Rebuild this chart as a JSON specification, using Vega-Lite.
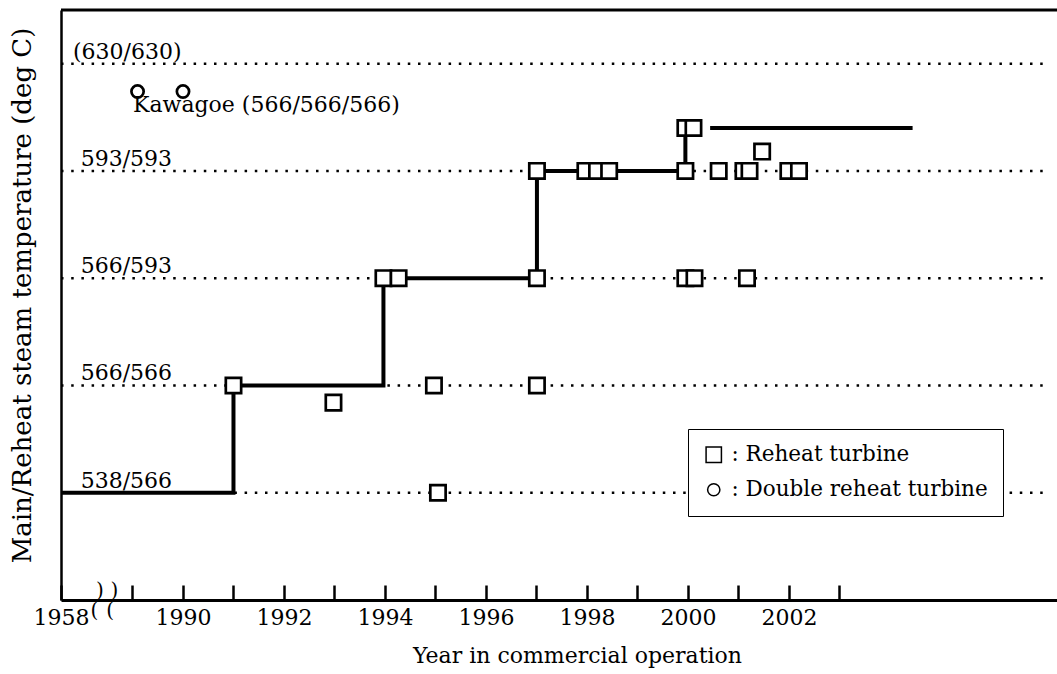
{
  "$schema": "https://vega.github.io/schema/vega-lite/v6.json",
  "width": 996,
  "height": 590,
  "autosize": {"type": "none"},
  "padding": {"left": 61, "top": 10, "right": 0, "bottom": 74},
  "background": "white",
  "config": {"view": {"stroke": null}, "font": "DejaVu Serif"},
  "datasets": {
    "levels": [
      {"lvl": 1, "yr": 1958, "yr2": 2007.05},
      {"lvl": 2, "yr": 1958, "yr2": 2007.05},
      {"lvl": 3, "yr": 1958, "yr2": 2007.05},
      {"lvl": 4, "yr": 1958, "yr2": 2007.05},
      {"lvl": 5, "yr": 1958, "yr2": 2007.17}
    ],
    "frame": [{"lvl": 5.5, "yr": 1958, "yr2": 2007.31}],
    "labels": [
      {"lvl": 1, "yr": 1971.0, "label": "538/566"},
      {"lvl": 2, "yr": 1971.0, "label": "566/566"},
      {"lvl": 3, "yr": 1971.0, "label": "566/593"},
      {"lvl": 4, "yr": 1971.0, "label": "593/593"},
      {"lvl": 5, "yr": 1965.9, "label": "(630/630)"}
    ],
    "notes": [{"lvl": 4.548, "yr": 1989.01, "label": "Kawagoe (566/566/566)"}],
    "breaks": [
      {"lvl": 0.08, "yr": 1983.72, "label": ")"},
      {"lvl": 0.08, "yr": 1988.64, "label": ")"},
      {"lvl": -0.1, "yr": 1980.09, "label": "("},
      {"lvl": -0.1, "yr": 1988.56, "label": "("}
    ],
    "steps": [
      {"seg": "A", "ord": 1, "yr": 1958, "lvl": 1},
      {"seg": "A", "ord": 2, "yr": 1991.0, "lvl": 1},
      {"seg": "A", "ord": 3, "yr": 1991.0, "lvl": 2},
      {"seg": "A", "ord": 4, "yr": 1993.97, "lvl": 2},
      {"seg": "A", "ord": 5, "yr": 1993.97, "lvl": 3},
      {"seg": "A", "ord": 6, "yr": 1997.01, "lvl": 3},
      {"seg": "A", "ord": 7, "yr": 1997.01, "lvl": 4},
      {"seg": "A", "ord": 8, "yr": 1999.95, "lvl": 4},
      {"seg": "A", "ord": 9, "yr": 1999.95, "lvl": 4.4},
      {"seg": "B", "ord": 1, "yr": 2000.44, "lvl": 4.4},
      {"seg": "B", "ord": 2, "yr": 2004.45, "lvl": 4.4}
    ],
    "units": [
      {"yr": 1991.0, "lvl": 2, "type": "Reheat turbine"},
      {"yr": 1992.98, "lvl": 1.84, "type": "Reheat turbine"},
      {"yr": 1994.97, "lvl": 2, "type": "Reheat turbine"},
      {"yr": 1995.05, "lvl": 1, "type": "Reheat turbine"},
      {"yr": 1997.01, "lvl": 2, "type": "Reheat turbine"},
      {"yr": 1993.97, "lvl": 3, "type": "Reheat turbine"},
      {"yr": 1994.27, "lvl": 3, "type": "Reheat turbine"},
      {"yr": 1997.01, "lvl": 3, "type": "Reheat turbine"},
      {"yr": 1999.95, "lvl": 3, "type": "Reheat turbine"},
      {"yr": 2000.13, "lvl": 3, "type": "Reheat turbine"},
      {"yr": 2001.17, "lvl": 3, "type": "Reheat turbine"},
      {"yr": 1997.01, "lvl": 4, "type": "Reheat turbine"},
      {"yr": 1997.97, "lvl": 4, "type": "Reheat turbine"},
      {"yr": 1998.2, "lvl": 4, "type": "Reheat turbine"},
      {"yr": 1998.44, "lvl": 4, "type": "Reheat turbine"},
      {"yr": 1999.95, "lvl": 4, "type": "Reheat turbine"},
      {"yr": 2000.61, "lvl": 4, "type": "Reheat turbine"},
      {"yr": 2001.1, "lvl": 4, "type": "Reheat turbine"},
      {"yr": 2001.22, "lvl": 4, "type": "Reheat turbine"},
      {"yr": 2001.99, "lvl": 4, "type": "Reheat turbine"},
      {"yr": 2002.2, "lvl": 4, "type": "Reheat turbine"},
      {"yr": 2001.47, "lvl": 4.18, "type": "Reheat turbine"},
      {"yr": 1999.95, "lvl": 4.4, "type": "Reheat turbine"},
      {"yr": 2000.11, "lvl": 4.4, "type": "Reheat turbine"},
      {"yr": 1989.1, "lvl": 4.74, "type": "Double reheat turbine"},
      {"yr": 1990.0, "lvl": 4.74, "type": "Double reheat turbine"}
    ]
  },
  "encoding": {
    "x": {
      "field": "yr",
      "type": "quantitative",
      "scale": {"domain": [1958, 1988.5, 2007.31], "range": [0, 46.25, 996], "zero": false, "nice": false},
      "axis": {
        "values": [1958, 1989, 1990, 1991, 1992, 1993, 1994, 1995, 1996, 1997, 1998, 1999, 2000, 2001, 2002, 2003],
        "format": "d",
        "labelExpr": "(datum.value == 1958 || datum.value % 2 == 0) ? datum.label : ''",
        "labelOverlap": false,
        "labelFlush": false,
        "labelBound": false,
        "grid": false,
        "domainColor": "black",
        "domainWidth": 3,
        "tickColor": "black",
        "tickWidth": 2.5,
        "tickSize": -15,
        "labelFont": "DejaVu Serif",
        "labelFontSize": 22,
        "labelColor": "black",
        "labelPadding": 22,
        "title": "Year in commercial operation",
        "titleFont": "DejaVu Serif",
        "titleFontSize": 22,
        "titleFontWeight": "normal",
        "titleColor": "black",
        "titleX": 516,
        "titlePadding": 17
      }
    },
    "y": {
      "field": "lvl",
      "type": "quantitative",
      "scale": {"domain": [0, 5.5], "zero": false, "nice": false},
      "axis": {
        "labels": false,
        "ticks": false,
        "grid": false,
        "domainColor": "black",
        "domainWidth": 2.5,
        "title": "Main/Reheat steam temperature (deg C)",
        "titleFont": "DejaVu Serif",
        "titleFontSize": 26,
        "titleFontWeight": "normal",
        "titleColor": "black",
        "titlePadding": 26,
        "titleY": 285
      }
    }
  },
  "layer": [
    {
      "data": {"name": "levels"},
      "mark": {"type": "rule", "color": "black", "strokeWidth": 2.5, "strokeDash": [2.5, 7.7]},
      "encoding": {"x2": {"field": "yr2"}}
    },
    {
      "data": {"name": "frame"},
      "mark": {"type": "rule", "color": "black", "strokeWidth": 3},
      "encoding": {"x2": {"field": "yr2"}}
    },
    {
      "data": {"name": "steps"},
      "mark": {"type": "line", "color": "black", "strokeWidth": 4},
      "encoding": {
        "detail": {"field": "seg", "type": "nominal"},
        "order": {"field": "ord", "type": "quantitative"}
      }
    },
    {
      "data": {"name": "units"},
      "mark": {"type": "point", "filled": true, "fill": "white", "stroke": "black", "strokeWidth": 2.7, "opacity": 1},
      "encoding": {
        "shape": {
          "field": "type",
          "type": "nominal",
          "scale": {"domain": ["Reheat turbine", "Double reheat turbine"], "range": ["square", "circle"]},
          "legend": {
            "title": null,
            "orient": "none",
            "legendX": 627,
            "legendY": 419,
            "padding": 15,
            "fillColor": "white",
            "strokeColor": "black",
            "labelFont": "DejaVu Serif",
            "labelFontSize": 21.5,
            "labelColor": "black",
            "labelLimit": 400,
            "labelOffset": 7,
            "rowPadding": 12,
            "labelExpr": "': ' + datum.label",
            "zindex": 1,
            "encode": {
              "symbols": {"update": {"fill": {"value": "white"}, "stroke": {"value": "black"}, "strokeWidth": {"value": 2.7}, "opacity": {"value": 1}, "fillOpacity": {"value": 1}, "strokeOpacity": {"value": 1}, "size": {"signal": "datum.value == 'Reheat turbine' ? 250 : 150"}}},
              "legend": {"update": {"strokeWidth": {"value": 2}}}
            }
          }
        },
        "size": {
          "field": "type",
          "type": "nominal",
          "scale": {"domain": ["Reheat turbine", "Double reheat turbine"], "range": [235, 150]},
          "legend": {
            "title": null,
            "orient": "none",
            "legendX": 627,
            "legendY": 419,
            "padding": 15,
            "fillColor": "white",
            "strokeColor": "black",
            "labelFont": "DejaVu Serif",
            "labelFontSize": 21.5,
            "labelColor": "black",
            "labelLimit": 400,
            "labelOffset": 7,
            "rowPadding": 12,
            "labelExpr": "': ' + datum.label",
            "zindex": 1,
            "encode": {
              "symbols": {"update": {"fill": {"value": "white"}, "stroke": {"value": "black"}, "strokeWidth": {"value": 2.7}, "opacity": {"value": 1}, "fillOpacity": {"value": 1}, "strokeOpacity": {"value": 1}, "size": {"signal": "datum.value == 'Reheat turbine' ? 250 : 150"}}},
              "legend": {"update": {"strokeWidth": {"value": 2}}}
            }
          }
        }
      }
    },
    {
      "data": {"name": "labels"},
      "mark": {"type": "text", "align": "left", "baseline": "alphabetic", "dy": -5, "font": "DejaVu Serif", "fontSize": 22, "color": "black"},
      "encoding": {"text": {"field": "label"}}
    },
    {
      "data": {"name": "notes"},
      "mark": {"type": "text", "align": "left", "baseline": "alphabetic", "font": "DejaVu Serif", "fontSize": 22, "color": "black"},
      "encoding": {"text": {"field": "label"}}
    },
    {
      "data": {"name": "breaks"},
      "mark": {"type": "text", "align": "center", "baseline": "middle", "font": "DejaVu Serif", "fontSize": 20, "color": "black"},
      "encoding": {"text": {"field": "label"}}
    }
  ]
}
